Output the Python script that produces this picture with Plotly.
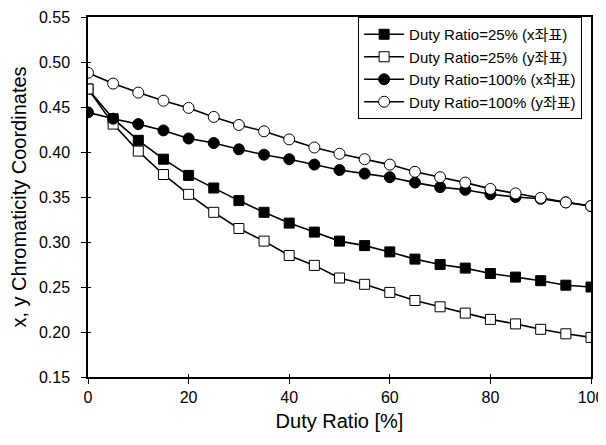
import plotly.graph_objects as go

duty = [0, 5, 10, 15, 20, 25, 30, 35, 40, 45, 50, 55, 60, 65, 70, 75, 80, 85, 90, 95, 100]

x25 = [0.470, 0.437, 0.413, 0.392, 0.374, 0.360, 0.346, 0.333, 0.321, 0.311, 0.301,
       0.296, 0.289, 0.281, 0.275, 0.271, 0.265, 0.261, 0.257, 0.252, 0.250]
y25 = [0.470, 0.431, 0.401, 0.375, 0.353, 0.333, 0.315, 0.301, 0.285, 0.274, 0.260,
       0.253, 0.244, 0.235, 0.228, 0.221, 0.214, 0.209, 0.203, 0.198, 0.194]
x100 = [0.444, 0.437, 0.431, 0.424, 0.415, 0.410, 0.403, 0.397, 0.392, 0.386, 0.380,
        0.376, 0.372, 0.366, 0.361, 0.358, 0.353, 0.350, 0.348, 0.344, 0.340]
y100 = [0.488, 0.476, 0.466, 0.457, 0.449, 0.439, 0.430, 0.423, 0.414, 0.405, 0.398,
        0.392, 0.386, 0.378, 0.372, 0.366, 0.359, 0.354, 0.349, 0.344, 0.340]

names = ["Duty Ratio=25% (x좌표)", "Duty Ratio=25% (y좌표)",
         "Duty Ratio=100% (x좌표)", "Duty Ratio=100% (y좌표)"]

x_ticks = [0, 20, 40, 60, 80, 100]
y_ticks = [0.15, 0.20, 0.25, 0.30, 0.35, 0.40, 0.45, 0.50, 0.55]

FONT = "Liberation Sans, Arial, Noto Sans CJK KR, sans-serif"

fig = go.Figure()
specs = [
    (x25, "square", "black", 10),
    (y25, "square", "white", 10),
    (x100, "circle", "black", 11),
    (y100, "circle", "white", 11),
]
for (vals, sym, fill, sz), nm in zip(specs, names):
    fig.add_trace(go.Scatter(
        x=duty, y=vals, name=nm, mode="lines+markers",
        line=dict(color="black", width=1.6),
        marker=dict(symbol=sym, size=sz, color=fill, line=dict(color="black", width=1)),
    ))

# overlay axes providing the inner half of the crossing tick marks
fig.add_trace(go.Scatter(x=[], y=[], xaxis="x2", yaxis="y2", showlegend=False,
                         hoverinfo="skip"))

fig.update_layout(
    width=598, height=437,
    margin=dict(l=80, r=15, t=9, b=68),
    paper_bgcolor="white", plot_bgcolor="white",
    font=dict(family=FONT, size=16, color="black"),
    showlegend=True,
    legend=dict(
        x=0.537, y=1.0, xanchor="left", yanchor="top",
        bgcolor="white", bordercolor="black", borderwidth=1,
        font=dict(family=FONT, size=15, color="black"),
        tracegroupgap=0, itemwidth=40,
        entrywidth=240, entrywidthmode="pixels",
    ),
    xaxis=dict(
        range=[0, 100], tickvals=x_ticks, automargin=False,
        showline=True, linecolor="black", linewidth=1.5, mirror=True,
        ticks="outside", ticklen=5, tickcolor="black", tickwidth=1,
        showgrid=False, zeroline=False,
        title=dict(text="Duty Ratio [%]", font=dict(size=20), standoff=9),
    ),
    yaxis=dict(
        range=[0.15, 0.55], tickvals=y_ticks, tickformat=".2f", automargin=False,
        showline=True, linecolor="black", linewidth=1.5, mirror=True,
        ticks="outside", ticklen=5, tickcolor="black", tickwidth=1,
        ticklabelstandoff=8,
        showgrid=False, zeroline=False,
        title=dict(text="x, y Chromaticity Coordinates", font=dict(size=20), standoff=8),
    ),
    xaxis2=dict(
        range=[0, 100], tickvals=x_ticks, overlaying="x", anchor="y2",
        ticks="inside", ticklen=3, tickcolor="black", showticklabels=False,
        showline=False, showgrid=False, zeroline=False,
    ),
    yaxis2=dict(
        range=[0.15, 0.55], tickvals=y_ticks, overlaying="y", anchor="x2",
        ticks="inside", ticklen=3, tickcolor="black", showticklabels=False,
        showline=False, showgrid=False, zeroline=False,
    ),
)

fig.write_html("out.html")
